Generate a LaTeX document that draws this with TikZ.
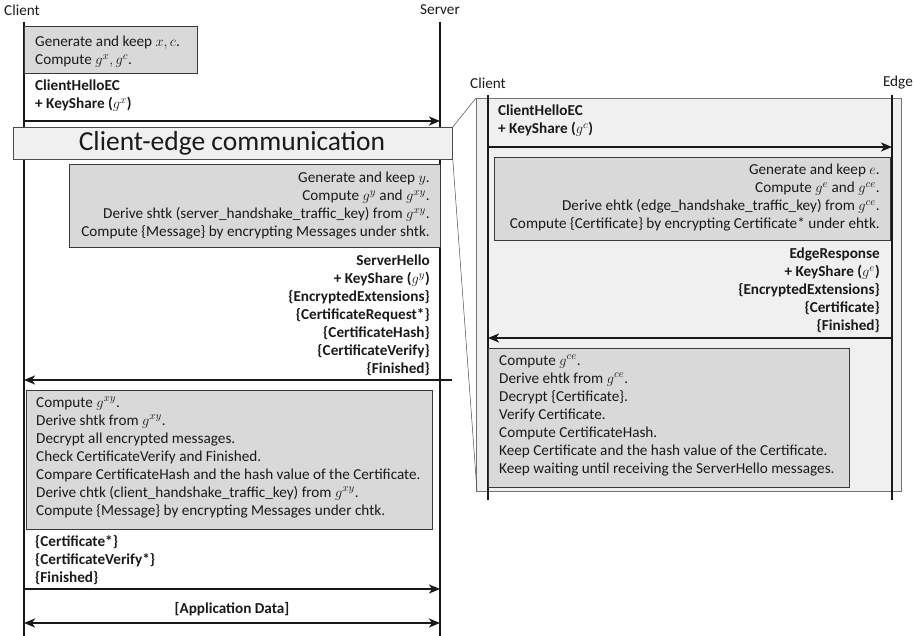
\documentclass[tikz,border=0pt]{standalone}
\usepackage{fontspec}
\setmainfont{Carlito}
\usetikzlibrary{arrows.meta}
\definecolor{boxfill}{HTML}{D9D9D9}
\definecolor{boxdraw}{HTML}{3A3A3A}
\definecolor{lightfill}{HTML}{F0F0F0}
\definecolor{txt}{HTML}{1A1A1A}
\tikzset{
  lbl/.style={font=\fontsize{15.2}{18}\selectfont, text=txt, inner sep=0pt},
  boldlbl/.style={lbl, font=\fontsize{15.2}{18}\selectfont\bfseries},
  life/.style={line width=2.4pt, draw=black!90},
  msg/.style={line width=2.2pt, draw=black!90, -{Stealth[length=11pt,width=9pt,inset=3pt]}},
  dmsg/.style={line width=2.2pt, draw=black!90, {Stealth[length=11pt,width=9pt,inset=3pt]}-{Stealth[length=11pt,width=9pt,inset=3pt]}},
  graybox/.style={draw=boxdraw, fill=boxfill, line width=1pt},
  zoomline/.style={draw=black!70, line width=0.5pt},
}
\begin{document}
\begin{tikzpicture}[x=1pt,y=-1pt]
\useasboundingbox (0,0) rectangle (913,636);
% right panel background
\draw[draw=black!55, fill=lightfill, line width=0.8pt] (476,98) rectangle (901,491);
\coordinate (ptl) at (476,98);
\coordinate (pbl) at (477,491);
% labels
\node[lbl, anchor=west] (lc) at (4,10) {Client};
\node[lbl, anchor=east] (ls) at (460,10) {Server};
\node[lbl, anchor=west] (rc) at (470,83) {Client};
\node[lbl, anchor=east] (re) at (913,83) {Edge};
% left lifelines
\coordinate (ct) at (24,22); \coordinate (cb) at (24,636);
\coordinate (st) at (440,22); \coordinate (sb) at (440,636);
\draw[life] (ct) -- (cb);
\draw[life] (st) -- (sb);
% box 1
\draw[graybox] (24,27) rectangle (197,74);
\node[lbl, anchor=north west, align=left] (t1) at (35,36) {Generate and keep $x,c$.\\Compute $g^{x},g^{c}$.};
\node[boldlbl, anchor=north west, align=left] (t2) at (35,80) {ClientHelloEC\\+ KeyShare ($g^{x}$)};
\coordinate (a1s) at (24,121); \coordinate (a1e) at (440,121);
\draw[msg] (a1s) -- (a1e);
% client-edge communication box
\node[draw=black!70, fill=lightfill, line width=0.8pt, minimum width=439, minimum height=32, inner sep=0pt, anchor=north west] (ce) at (13,127) {};
\node[font=\fontsize{27.5}{30}\selectfont, text=txt, inner sep=0pt] (cet) at (232,143) {Client-edge communication};
% box 2
\draw[graybox] (69,165) rectangle (440,248);
\node[lbl, anchor=north east, align=right] (t3) at (430,172) {Generate and keep $y$.\\Compute $g^{y}$ and $g^{xy}$.\\Derive shtk (server\_handshake\_traffic\_key) from $g^{xy}$.\\Compute \{Message\} by encrypting Messages under shtk.};
\node[boldlbl, anchor=north east, align=right] (t4) at (430,255) {ServerHello\\+ KeyShare ($g^{y}$)\\\{EncryptedExtensions\}\\\{CertificateRequest*\}\\\{CertificateHash\}\\\{CertificateVerify\}\\\{Finished\}};
\coordinate (a2s) at (452,380); \coordinate (a2e) at (24,380);
\draw[msg] (a2s) -- (a2e);
% box 3
\draw[graybox] (26,390) rectangle (432,529);
\node[lbl, anchor=north west, align=left] (t5) at (36,397) {Compute $g^{xy}$.\\Derive shtk from $g^{xy}$.\\Decrypt all encrypted messages.\\Check CertificateVerify and Finished.\\Compare CertificateHash and the hash value of the Certificate.\\Derive chtk (client\_handshake\_traffic\_key) from $g^{xy}$.\\Compute \{Message\} by encrypting Messages under chtk.};
\node[boldlbl, anchor=north west, align=left] (t6) at (35,535) {\{Certificate*\}\\\{CertificateVerify*\}\\\{Finished\}};
\coordinate (a3s) at (24,589); \coordinate (a3e) at (440,589);
\draw[msg] (a3s) -- (a3e);
\node[boldlbl] (t7) at (232,609) {[Application Data]};
\coordinate (a4s) at (24,623); \coordinate (a4e) at (440,623);
\draw[dmsg] (a4s) -- (a4e);
% zoom lines
\draw[zoomline] (ce.north east) -- (ptl);
\draw[zoomline] (ce.south east) -- (pbl);
% right lifelines
\coordinate (rct) at (488,95); \coordinate (rcb) at (488,500);
\coordinate (ret) at (892,95); \coordinate (reb) at (892,500);
\draw[life] (rct) -- (rcb);
\draw[life] (ret) -- (reb);
\node[boldlbl, anchor=north west, align=left] (t8) at (498,105) {ClientHelloEC\\+ KeyShare ($g^{c}$)};
\coordinate (b1s) at (488,147); \coordinate (b1e) at (892,147);
\draw[msg] (b1s) -- (b1e);
\draw[graybox] (494,158) rectangle (890,241);
\node[lbl, anchor=north east, align=right] (t9) at (880,164) {Generate and keep $e$.\\Compute $g^{e}$ and $g^{ce}$.\\Derive ehtk (edge\_handshake\_traffic\_key) from $g^{ce}$.\\Compute \{Certificate\} by encrypting Certificate* under ehtk.};
\node[boldlbl, anchor=north east, align=right] (t10) at (880,248) {EdgeResponse\\+ KeyShare ($g^{e}$)\\\{EncryptedExtensions\}\\\{Certificate\}\\\{Finished\}};
\coordinate (b2s) at (892,338); \coordinate (b2e) at (488,338);
\draw[msg] (b2s) -- (b2e);
\draw[graybox] (488,348) rectangle (849,487);
\node[lbl, anchor=north west, align=left] (t11) at (499,355) {Compute $g^{ce}$.\\Derive ehtk from $g^{ce}$.\\Decrypt \{Certificate\}.\\Verify Certificate.\\Compute CertificateHash.\\Keep Certificate and the hash value of the Certificate.\\Keep waiting until receiving the ServerHello messages.};
\end{tikzpicture}
\end{document}
